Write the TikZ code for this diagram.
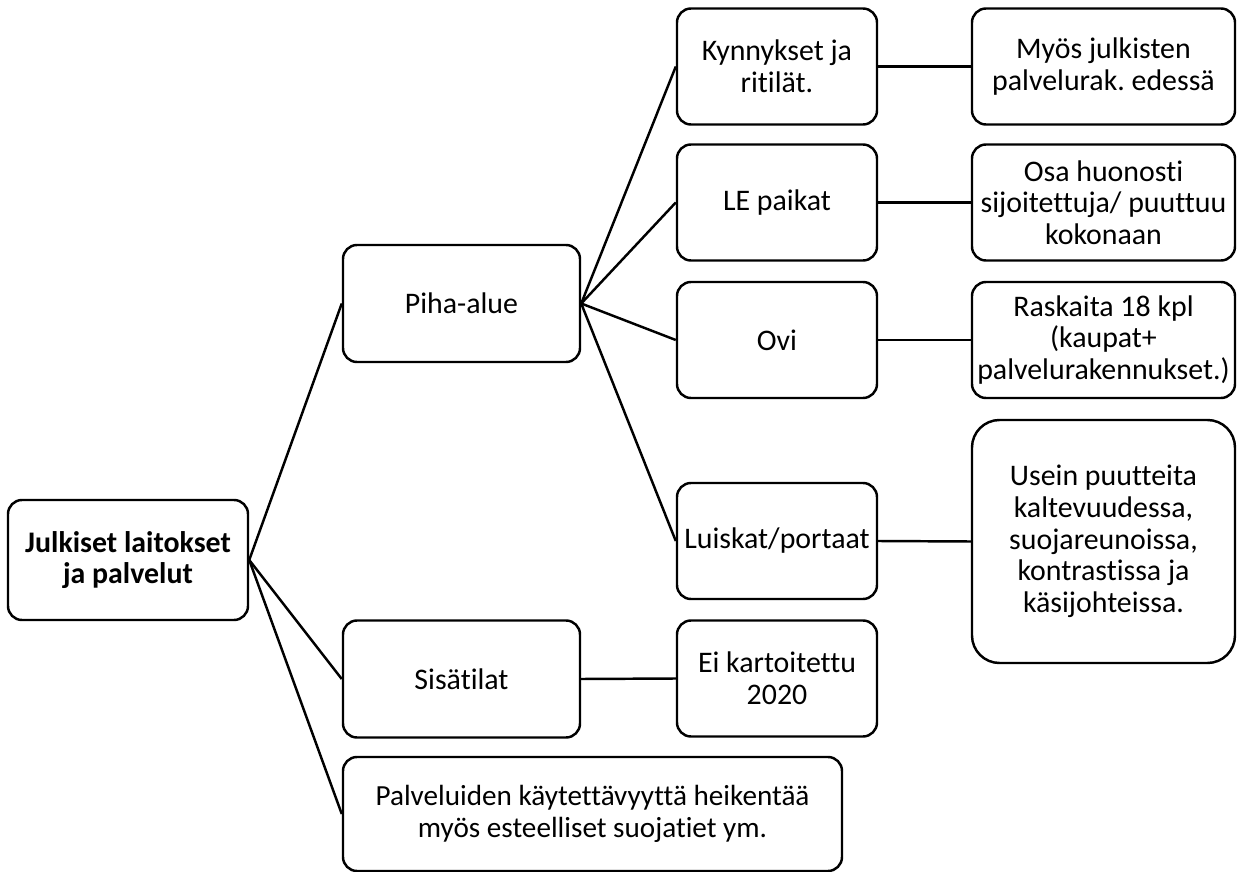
\documentclass[tikz,border=0pt]{standalone}
\usepackage{fontspec}
\setmainfont{Carlito}[Ligatures=NoCommon]
\usepackage{tikz}
\frenchspacing

\begin{document}
\begin{tikzpicture}[
    box/.style={draw, line width=1.4pt, rounded corners=0.28cm, align=center,
        font=\fontsize{17}{18}\selectfont, inner sep=2pt},
    lvlone/.style={box, minimum width=4.74cm, minimum height=2.34cm},
    lvltwo/.style={box, minimum width=4.0cm, minimum height=2.32cm},
    lvlthree/.style={box, minimum width=5.26cm, minimum height=2.32cm},
    link/.style={line width=1.4pt}
]
    \useasboundingbox (0,0) rectangle (24.96,-17.44);

    % Root
    \node[box, minimum width=4.8cm, minimum height=2.4cm, font=\fontsize{17}{18}\selectfont\bfseries]
        (root) at (2.56,-11.2) {Julkiset laitokset\\ja palvelut};

    % First level
    \node[lvlone] (piha) at (9.23,-6.07) {Piha-alue};
    \node[lvlone] (sisa) at (9.23,-13.58) {Sisätilat};
    \node[box, minimum width=9.98cm, minimum height=2.28cm, font=\fontsize{16.6}{18}\selectfont]
        (palv) at (11.85,-16.28) {Palveluiden käytettävyyttä heikentää\\myös esteelliset suojatiet ym.};

    % Second level
    \node[lvltwo] (kynn) at (15.54,-1.33) {Kynnykset ja\\ritilät.};
    \node[lvltwo] (lepa) at (15.54,-4.05) {LE paikat};
    \node[lvltwo] (ovi) at (15.54,-6.8) {Ovi};
    \node[lvltwo] (luis) at (15.54,-10.82) {Luiskat/portaat};
    \node[lvltwo] (eika) at (15.54,-13.57) {Ei kartoitettu\\2020};

    % Third level
    \node[lvlthree] (myos) at (22.07,-1.33) {Myös julkisten\\palvelurak. edessä};
    \node[lvlthree] (osa) at (22.07,-4.05) {Osa huonosti\\sijoitettuja/ puuttuu\\kokonaan};
    \node[lvlthree] (rask) at (22.07,-6.8) {Raskaita 18 kpl\\(kaupat+\\palvelurakennukset.)};
    \node[lvlthree, minimum height=4.86cm, rounded corners=0.55cm]
        (usei) at (22.07,-10.83) {Usein puutteita\\kaltevuudessa,\\suojareunoissa,\\kontrastissa ja\\käsijohteissa.};

    % Connectors
    \foreach \child in {piha, sisa, palv} {
        \draw[link] (root.east) -- (\child.west);
    }
    \foreach \child in {kynn, lepa, ovi, luis} {
        \draw[link] (piha.east) -- (\child.west);
    }
    \draw[link] (sisa.east) -- (eika.west);
    \draw[link] (kynn.east) -- (myos.west);
    \draw[link] (lepa.east) -- (osa.west);
    \draw[link] (ovi.east) -- (rask.west);
    \draw[link] (luis.east) -- (usei.west);
\end{tikzpicture}
\end{document}
